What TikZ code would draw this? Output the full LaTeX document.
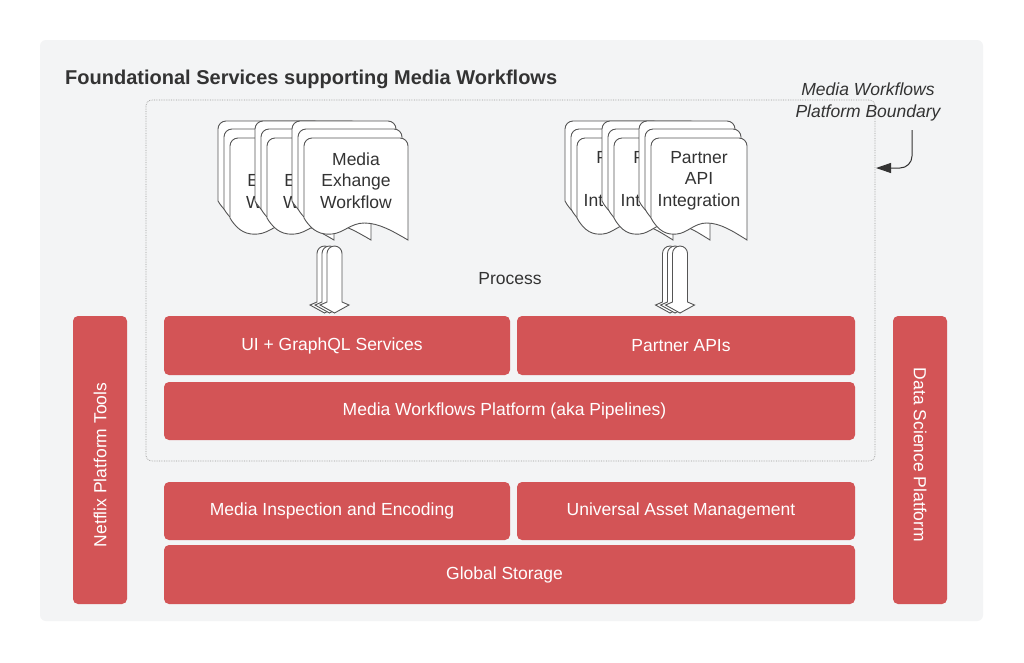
\documentclass[tikz,border=0pt]{standalone}
\usepackage{fontspec}
\setmainfont{Liberation Sans}
\usetikzlibrary{arrows.meta}
\definecolor{redfill}{HTML}{D35456}
\definecolor{panel}{HTML}{F3F4F5}
\definecolor{ink}{HTML}{333333}
\definecolor{docgray}{HTML}{555555}
\definecolor{bndgray}{HTML}{9A9A9A}
\newcommand\ts[1]{#1\hspace*{10pt}}
\newcommand\mydoc[5]{%
  \begin{scope}[shift={(#2,#3)}]
    \draw[docline] (0,80) -- (0,8) arc (180:270:8) -- ({#4-8},0) arc (270:360:8) -- (#4,102)
      .. controls ({0.85*#4},93) and ({0.72*#4},85) .. ({0.58*#4},85)
      .. controls ({0.45*#4},85) and ({0.38*#4},95) .. ({0.27*#4},96)
      .. controls ({0.17*#4},97) and ({0.08*#4},94) .. (0,80) -- cycle;
    \node[doctext] (#1) at ({#4/2},42.5) {#5};
  \end{scope}}
\newcommand\backdoc[3]{%
  \begin{scope}[shift={(#1,#2)}]
    \draw[docline] (0,80) -- (0,8) arc (180:270:8) -- ({#3-8},0) arc (270:360:8) -- (#3,102)
      .. controls ({0.85*#3},93) and ({0.72*#3},85) .. ({0.58*#3},85)
      .. controls ({0.45*#3},85) and ({0.38*#3},95) .. ({0.27*#3},96)
      .. controls ({0.17*#3},97) and ({0.08*#3},94) .. (0,80) -- cycle;
  \end{scope}}
\newcommand\barrow[2]{%
  \begin{scope}[shift={(#1,#2)}]
    \draw[docline] (-7.5,56) -- (-7.5,7.5) arc (180:360:7.5) -- (7.5,56) -- (14.5,59) -- (0,67) -- (-14.5,59) -- cycle;
  \end{scope}}
\tikzset{
  docline/.style={draw=docgray, fill=white, line width=0.9pt},
  doctext/.style={text=ink, align=center, font=\fontsize{17.5}{21.5}\selectfont, inner sep=0pt},
  redbox/.style={fill=redfill, rounded corners=5pt, text=white, inner sep=0pt,
    font=\fontsize{17.5}{21}\selectfont},
  plain/.style={text=ink, inner sep=0pt, font=\fontsize{17.5}{21.5}\selectfont},
  boundary/.style={draw=bndgray, densely dotted, line width=0.7pt, rounded corners=6pt},
  callout/.style={draw=ink, line width=1pt, rounded corners=12pt, -{Triangle[length=15pt,width=10pt]}}
}
\begin{document}
\begin{tikzpicture}[x=1pt,y=-1pt]
\useasboundingbox (0,0) rectangle (1024,662);
\fill[white] (0,0) rectangle (1024,662);
\fill[panel, rounded corners=6pt] (40,40) rectangle (983,621);

\node[anchor=base west, text=ink, inner sep=0pt, font=\fontsize{20}{24}\selectfont\bfseries] (title) at (65,84)
  {Foundational Services supporting Media Workflows};

% platform boundary
\draw[boundary] (146,100) rectangle (875,461);
\node[plain, align=center, font=\fontsize{17.5}{22}\selectfont\itshape] (bndlabel) at (868,102)
  {Media Workflows\\Platform Boundary};
\coordinate (cs) at (912,130);
\coordinate (ce) at (876,168);
\draw[callout] (cs) |- (ce);

% left document stacks
\backdoc{218}{121}{104}\backdoc{224}{129}{104}\mydoc{dA1}{230}{138}{104}{\phantom{Media}\\E\phantom{xhange}\\W\phantom{orkflow}}
\backdoc{255}{121}{104}\backdoc{261}{129}{104}\mydoc{dA2}{267}{138}{104}{\phantom{Media}\\E\phantom{xhange}\\W\phantom{orkflow}}
\backdoc{292}{121}{104}\backdoc{298}{129}{104}\mydoc{dA3}{304}{138}{104}{Media\\Exhange\\Workflow}

% right document stacks
\backdoc{565}{121}{96}\backdoc{571}{129}{96}\mydoc{dB1}{577}{138}{96}{P\phantom{artner}\\\phantom{API}\\Int\phantom{egration}}
\backdoc{602}{121}{96}\backdoc{608}{129}{96}\mydoc{dB2}{614}{138}{96}{P\phantom{artner}\\\phantom{API}\\Inte\phantom{gration}}
\backdoc{639}{121}{96}\backdoc{645}{129}{96}\mydoc{dB3}{651}{138}{96}{Partner\\API\\Integration}

% block arrows
\barrow{324.5}{246}\barrow{329.5}{246}\barrow{334.5}{246}
\barrow{670}{246}\barrow{675}{246}\barrow{680}{246}

\node[plain] (process) at (510,279) {Process};

% red boxes
\node[redbox, minimum width=346pt, minimum height=59pt] (ui) at (337,345.5) {\ts{UI + GraphQL Services}};
\node[redbox, minimum width=338pt, minimum height=59pt] (papi) at (686,345.5) {\ts{Partner APIs}};
\node[redbox, minimum width=691pt, minimum height=58pt] (mwp) at (509.5,411) {\ts{Media Workflows Platform (aka Pipelines)}};
\node[redbox, minimum width=346pt, minimum height=58pt] (mie) at (337,511) {\ts{Media Inspection and Encoding}};
\node[redbox, minimum width=338pt, minimum height=58pt] (uam) at (686,511) {\ts{Universal Asset Management}};
\node[redbox, minimum width=691pt, minimum height=59pt] (gs) at (509.5,574.5) {\ts{Global Storage}};
\node[redbox, minimum width=288pt, minimum height=54pt, rotate=90] (npt) at (100,460) {\ts{Netflix Platform Tools}};
\node[redbox, minimum width=288pt, minimum height=54pt, rotate=-90] (dsp) at (920,460) {\ts{Data Science Platform}};
\end{tikzpicture}
\end{document}
